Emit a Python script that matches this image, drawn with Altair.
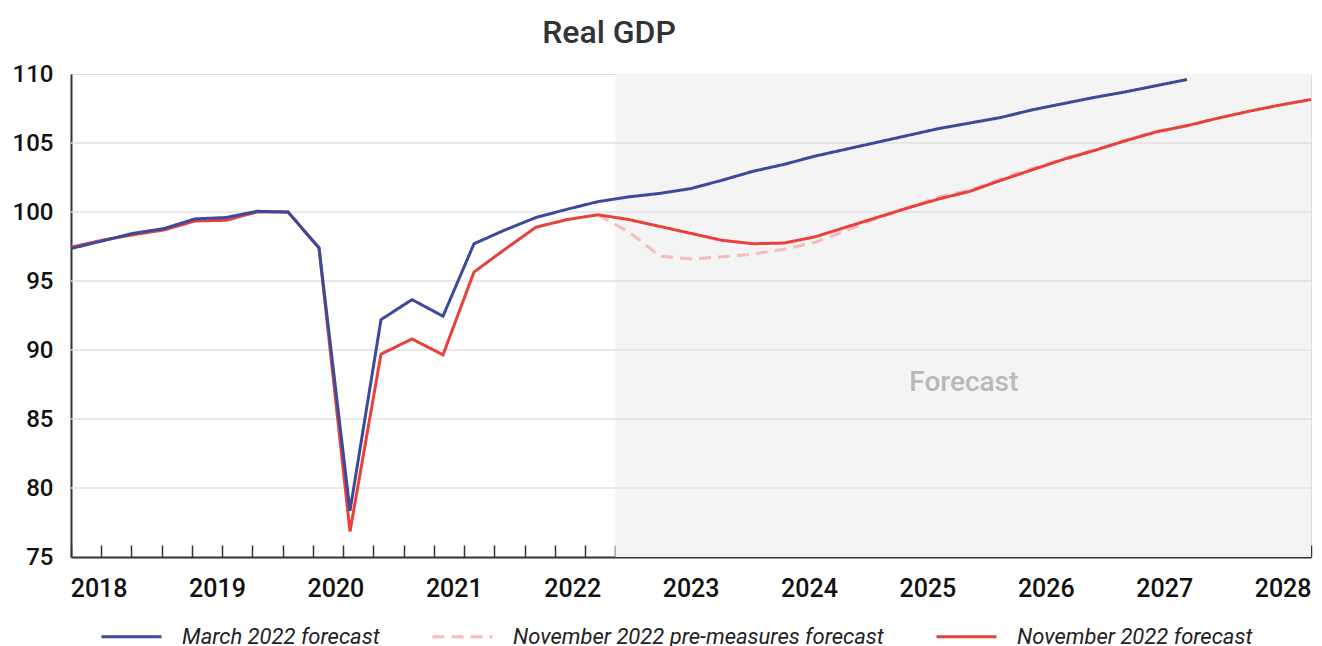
import json
import altair as alt
import pandas as pd

# ---------------- data ----------------
title_text = "Real GDP"
series_names = [
    "March 2022 forecast",
    "November 2022 pre-measures forecast",
    "November 2022 forecast",
]
series_colors = ["#3c4a9b", "#f6bcb8", "#e8403a"]
series_dash = [[1, 0], [12, 7], [1, 0]]

year_labels = ["2018", "2019", "2020", "2021", "2022", "2023", "2024", "2025", "2026", "2027", "2028"]
y_ticks = [75, 80, 85, 90, 95, 100, 105, 110]

start_year = 2018
n_quarters = 41  # 2018Q1 .. 2028Q1
quarters = [start_year + i / 4 for i in range(n_quarters)]

march_2022 = [97.35, 97.9, 98.45, 98.8, 99.5, 99.6, 100.05, 100.0, 97.4, 78.35,
              92.2, 93.65, 92.45, 97.7, 98.7, 99.6, 100.2, 100.75, 101.1, 101.35,
              101.7, 102.3, 102.95, 103.45, 104.05, 104.55, 105.05, 105.55, 106.05, 106.45,
              106.85, 107.4, 107.85, 108.3, 108.7, 109.15, 109.6]

nov_2022 = [97.45, 97.95, 98.35, 98.7, 99.35, 99.4, 100.0, 100.0, 97.4, 76.85,
            89.7, 90.8, 89.65, 95.65, 97.3, 98.9, 99.45, 99.8, 99.45, 98.95,
            98.45, 97.95, 97.7, 97.75, 98.2, 98.9, 99.6, 100.3, 100.95, 101.5,
            102.3, 103.05, 103.8, 104.45, 105.15, 105.8, 106.25, 106.8, 107.3, 107.75,
            108.15]

pre_start_index = 17  # 2022Q2
nov_2022_pre = [99.8, 98.55, 96.8, 96.6, 96.75, 96.95, 97.3, 97.8, 98.65, 99.55,
                100.3, 101.1, 101.6, 102.4, 103.15, 103.85, 104.5, 105.2, 105.85, 106.3]

forecast_start = 2022.39
forecast_end = 2028.0
forecast_label = "Forecast"
forecast_label_x = 2025.2
forecast_label_y = 87.6

# ---------------- tables ----------------
rows = []
for i, v in enumerate(march_2022):
    rows.append({"t": quarters[i], "value": v, "series": series_names[0]})
for i, v in enumerate(nov_2022_pre):
    rows.append({"t": quarters[pre_start_index + i], "value": v, "series": series_names[1]})
for i, v in enumerate(nov_2022):
    rows.append({"t": quarters[i], "value": v, "series": series_names[2]})
df = pd.DataFrame(rows)

df_fc = pd.DataFrame([{"start": forecast_start, "end": forecast_end,
                       "lo": y_ticks[0], "hi": y_ticks[-1]}])
df_grid = pd.DataFrame({"v": y_ticks[1:-1]})
df_lbl = pd.DataFrame([{"x": forecast_label_x, "y": forecast_label_y, "text": forecast_label}])

# ---------------- layout ----------------
W, H = 1240, 483
FONT = "Roboto"
x_min, x_max = start_year, start_year + (n_quarters - 1) / 4

xs = alt.Scale(domain=[x_min, x_max], nice=False, zero=False)
ys = alt.Scale(domain=[y_ticks[0], y_ticks[-1]], nice=False, zero=False)

# quarter tick marks spread evenly along the axis (one more than intervals)
tick_vals = [x_min + k * (x_max - x_min) / n_quarters for k in range(n_quarters + 1)]
# year labels spread evenly from flush-left to flush-right
lab_first = x_min + 0.2226
lab_step = 0.95484
label_vals = [lab_first + k * lab_step for k in range(len(year_labels))]
label_expr = f"{json.dumps(year_labels)}[round((datum.value - {lab_first}) / {lab_step})]"

rect = alt.Chart(df_fc).mark_rect(color="#f4f4f4").encode(
    x=alt.X("start:Q", scale=xs, axis=alt.Axis(
        orient="top", offset=-H, values=tick_vals, labels=False, tickSize=12,
        tickColor="#333333", tickWidth=1.5, domain=True, domainColor="#333333",
        domainWidth=2, grid=False, title=None)),
    x2="end:Q",
    y=alt.Y("lo:Q", scale=ys, axis=alt.Axis(
        values=y_ticks, grid=False, ticks=False, domain=True, domainColor="#333333",
        domainWidth=2, labelFontSize=24, labelFont=FONT, labelFontWeight=500,
        labelColor="#111111", labelPadding=18, title=None)),
    y2="hi:Q",
)

grid = alt.Chart(df_grid).mark_rule(color="#e2e2e2", strokeWidth=1.5).encode(
    y=alt.Y("v:Q", scale=ys, axis=None)
)

legend = alt.Legend(
    title=None, orient="none", legendX=29, legendY=531, direction="horizontal",
    columns=3, symbolType="stroke", symbolSize=3600, symbolStrokeWidth=3,
    labelOffset=19, columnPadding=46, labelFontSize=22, labelFont=FONT,
    labelFontStyle="italic", labelColor="#222222", labelLimit=600, padding=0,
)
color = alt.Color("series:N", scale=alt.Scale(domain=series_names, range=series_colors),
                  legend=legend)
dash = alt.StrokeDash("series:N", scale=alt.Scale(domain=series_names, range=series_dash),
                      legend=legend)


def line_layer(name, axis):
    return alt.Chart(df).transform_filter(alt.datum.series == name).mark_line(
        strokeWidth=3
    ).encode(
        x=alt.X("t:Q", scale=xs, axis=axis),
        y=alt.Y("value:Q", scale=ys, axis=None),
        color=color,
        strokeDash=dash,
    )


x_label_axis = alt.Axis(
    orient="bottom", values=label_vals, labelExpr=label_expr, ticks=False, domain=False,
    grid=False, labelFontSize=25, labelFont=FONT, labelFontWeight=500, labelColor="#111111",
    labelPadding=19, labelFlush=False, labelOverlap=False, labelBound=False, title=None,
)

pre_line = line_layer(series_names[1], None)
nov_line = line_layer(series_names[2], None)
mar_line = line_layer(series_names[0], x_label_axis)

label = alt.Chart(df_lbl).mark_text(
    font=FONT, fontSize=28, fontWeight=500, color="#b9b9b9"
).encode(
    x=alt.X("x:Q", scale=xs, axis=None),
    y=alt.Y("y:Q", scale=ys, axis=None),
    text="text:N",
)

chart = alt.layer(rect, grid, pre_line, nov_line, mar_line, label).resolve_axis(
    x="independent", y="independent"
).properties(
    width=W, height=H,
    title=alt.TitleParams(title_text, font=FONT, fontSize=32, fontWeight=500,
                          color="#333333", anchor="middle", dx=-82, offset=12),
    autosize=alt.AutoSizeParams(type="none"),
    padding={"left": 63, "top": 66, "right": 3, "bottom": 89},
).configure_view(stroke=None).configure(font=FONT)

chart.save("out.html", embed_options={"renderer": "svg", "actions": False})
